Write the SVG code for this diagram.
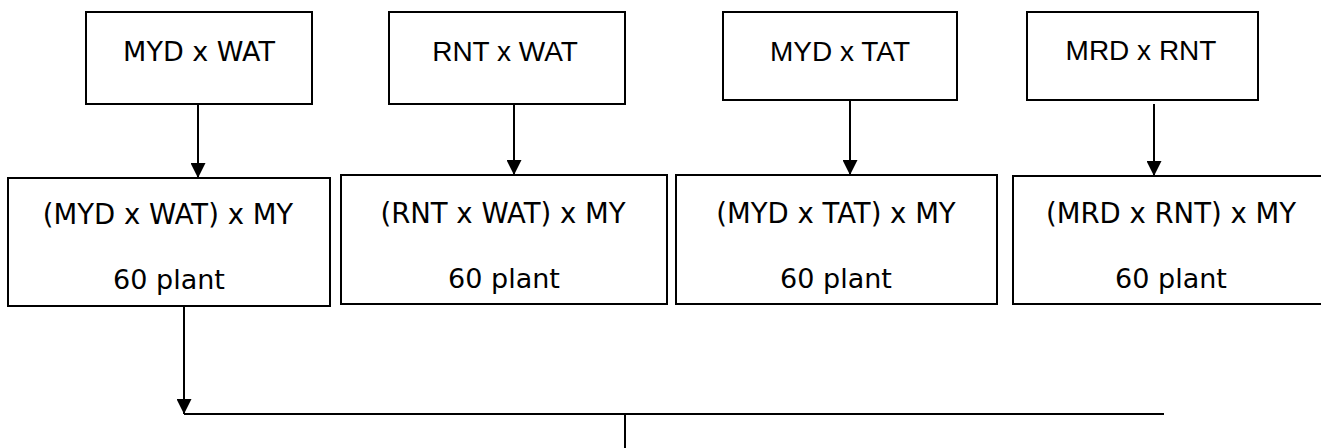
<svg xmlns="http://www.w3.org/2000/svg" width="1321" height="448" viewBox="0 0 1321 448">
<defs>
<style>
.box{fill:#fff;stroke:#000;stroke-width:2}
.t{font-family:"DejaVu Sans",sans-serif;font-size:27px;fill:#000;text-anchor:middle}
.t1{font-family:"DejaVu Sans",sans-serif;font-size:27.5px;fill:#000;text-anchor:middle}
.a{font-family:"Liberation Sans",Arial,sans-serif;font-size:28px;fill:#000;text-anchor:middle}
.c{fill:none;stroke:#000;stroke-width:2}
</style>
<marker id="arr" markerWidth="15" markerHeight="15" viewBox="0 0 15 15" refX="15" refY="7.5" orient="auto" markerUnits="userSpaceOnUse">
<path d="M0,0 L15,7.5 L0,15 Z" fill="#000"/>
</marker>
</defs>
<g id="connectors">
<line class="c" x1="198" y1="104" x2="198" y2="178" marker-end="url(#arr)"/>
<line class="c" x1="514" y1="104" x2="514" y2="175" marker-end="url(#arr)"/>
<line class="c" x1="850" y1="100" x2="850" y2="175" marker-end="url(#arr)"/>
<line class="c" x1="1154" y1="104" x2="1154" y2="176" marker-end="url(#arr)"/>
<line class="c" x1="184" y1="306" x2="184" y2="414" marker-end="url(#arr)"/>
<line class="c" x1="184" y1="414" x2="1164" y2="414"/>
<line class="c" x1="625" y1="414" x2="625" y2="448"/>
</g>
<g id="top1"><rect class="box" x="86" y="12" width="226" height="92"/><text class="t" x="199" y="61">MYD x WAT</text></g>
<g id="top2"><rect class="box" x="389" y="12" width="236" height="92"/><text class="a" x="505" y="61">RNT x WAT</text></g>
<g id="top3"><rect class="box" x="723" y="12" width="234" height="88"/><text class="a" x="840" y="61">MYD x TAT</text></g>
<g id="top4"><rect class="box" x="1027" y="12" width="231" height="88"/><text class="a" x="1141" y="60">MRD x RNT</text></g>
<g id="bot1"><rect class="box" x="8" y="178" width="322" height="128"/><text class="t1" x="168" y="224">(MYD x WAT) x MY</text><text class="t" x="169" y="289">60 plant</text></g>
<g id="bot2"><rect class="box" x="341" y="175" width="326" height="129"/><text class="t1" x="503" y="223">(RNT x WAT) x MY</text><text class="t" x="504" y="288">60 plant</text></g>
<g id="bot3"><rect class="box" x="676" y="175" width="321" height="129"/><text class="t1" x="836" y="223">(MYD x TAT) x MY</text><text class="t" x="836" y="288">60 plant</text></g>
<g id="bot4"><rect class="box" x="1013" y="176" width="320" height="128"/><text class="t1" x="1171" y="223">(MRD x RNT) x MY</text><text class="t" x="1171" y="288">60 plant</text></g>
</svg>
